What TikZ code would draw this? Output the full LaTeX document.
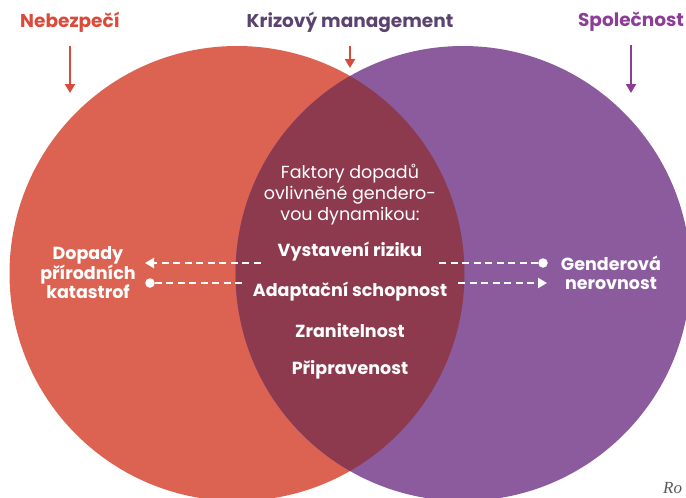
\documentclass[tikz,border=0pt]{standalone}
\usepackage{fontspec}
\setmainfont{Poppins}
\newfontfamily\notefont{Liberation Serif}
\usetikzlibrary{arrows.meta}

\definecolor{hazard}{HTML}{DC6351}
\definecolor{society}{HTML}{8B5B9E}
\definecolor{crisis}{HTML}{8E3A4E}
\definecolor{hazardtext}{HTML}{DA4A3A}
\definecolor{mgmttext}{HTML}{5B4370}
\definecolor{societytext}{HTML}{8C3E96}

\begin{document}
\begin{tikzpicture}[x=1pt,y=-1pt,
    title/.style={font=\bfseries\fontsize{18.5}{20}\selectfont},
    factor/.style={text=white,font=\bfseries\fontsize{17.5}{19.5}\selectfont,align=center},
    downarrow/.style={line width=2.5pt,-{Triangle[length=9pt,width=10pt]}},
    dashline/.style={white,line width=2.8pt,dash pattern=on 7pt off 4.5pt},
    tip/.style={-{Triangle[length=9pt,width=10pt]}},
    dot/.style={circle,fill=white,inner sep=0pt,minimum size=9.5pt}]
\useasboundingbox (0,0) rectangle (686,498);
\clip (0,0) rectangle (686,498);

% the two circles and their overlap
\fill[hazard] (237,273.5) circle[radius=227.5pt];
\fill[society] (463,273.5) circle[radius=227.5pt];
\begin{scope}
  \clip (237,273.5) circle[radius=227.5pt];
  \fill[crisis] (463,273.5) circle[radius=227.5pt];
\end{scope}

% headings with their arrows
\node[title,text=hazardtext] (nebezpeci) at (70,22) {Nebezpečí};
\node[title,text=mgmttext] (krizovy) at (350,22) {Krizový management};
\node[title,text=societytext] (spolecnost) at (631,22) {Společnost};
\coordinate (nebezpeci-tip) at (70,93);
\coordinate (krizovy-tip) at (350,68);
\coordinate (spolecnost-tip) at (631,93);
\draw[downarrow,hazardtext,shorten <=10pt] (nebezpeci) -- (nebezpeci-tip);
\draw[downarrow,hazardtext,shorten <=10pt] (krizovy) -- (krizovy-tip);
\draw[downarrow,societytext,shorten <=10pt] (spolecnost) -- (spolecnost-tip);

% texts in the overlap
\node[text=white,align=center,font=\fontsize{17.5}{21}\selectfont] (faktory) at (350,195)
  {Faktory dopadů\\ovlivněné gendero-\\vou dynamikou:};
\node[factor,inner xsep=17pt] (vystaveni) at (350,252) {Vystavení riziku};
\node[factor,inner xsep=11pt] (adaptace) at (350,292) {Adaptační schopnost};
\node[factor] (zranitelnost) at (350,331) {Zranitelnost};
\node[factor] (pripravenost) at (350,370) {Připravenost};

% side labels
\node[factor] (dopady) at (88,273) {Dopady\\přírodních\\katastrof};
\node[factor] (nerovnost) at (611,273) {Genderová\\nerovnost};

% dashed links
\node[dot] (dotR) at (543,263) {};
\node[dot] (dotL) at (150,283) {};
\coordinate (tipL) at (145,263);
\coordinate (tipR) at (547,283);
\draw[dashline] (dotR) -- (dotR -| vystaveni.east);
\draw[dashline,tip] (vystaveni.west |- tipL) -- (tipL);
\draw[dashline] (dotL) -- (dotL -| adaptace.west);
\draw[dashline,tip] (adaptace.east |- tipR) -- (tipR);

\node[anchor=base west,inner sep=0pt,text=black!65,font=\notefont\itshape\fontsize{17}{18}\selectfont] (zdroj) at (663,493) {Ro};
\end{tikzpicture}
\end{document}
